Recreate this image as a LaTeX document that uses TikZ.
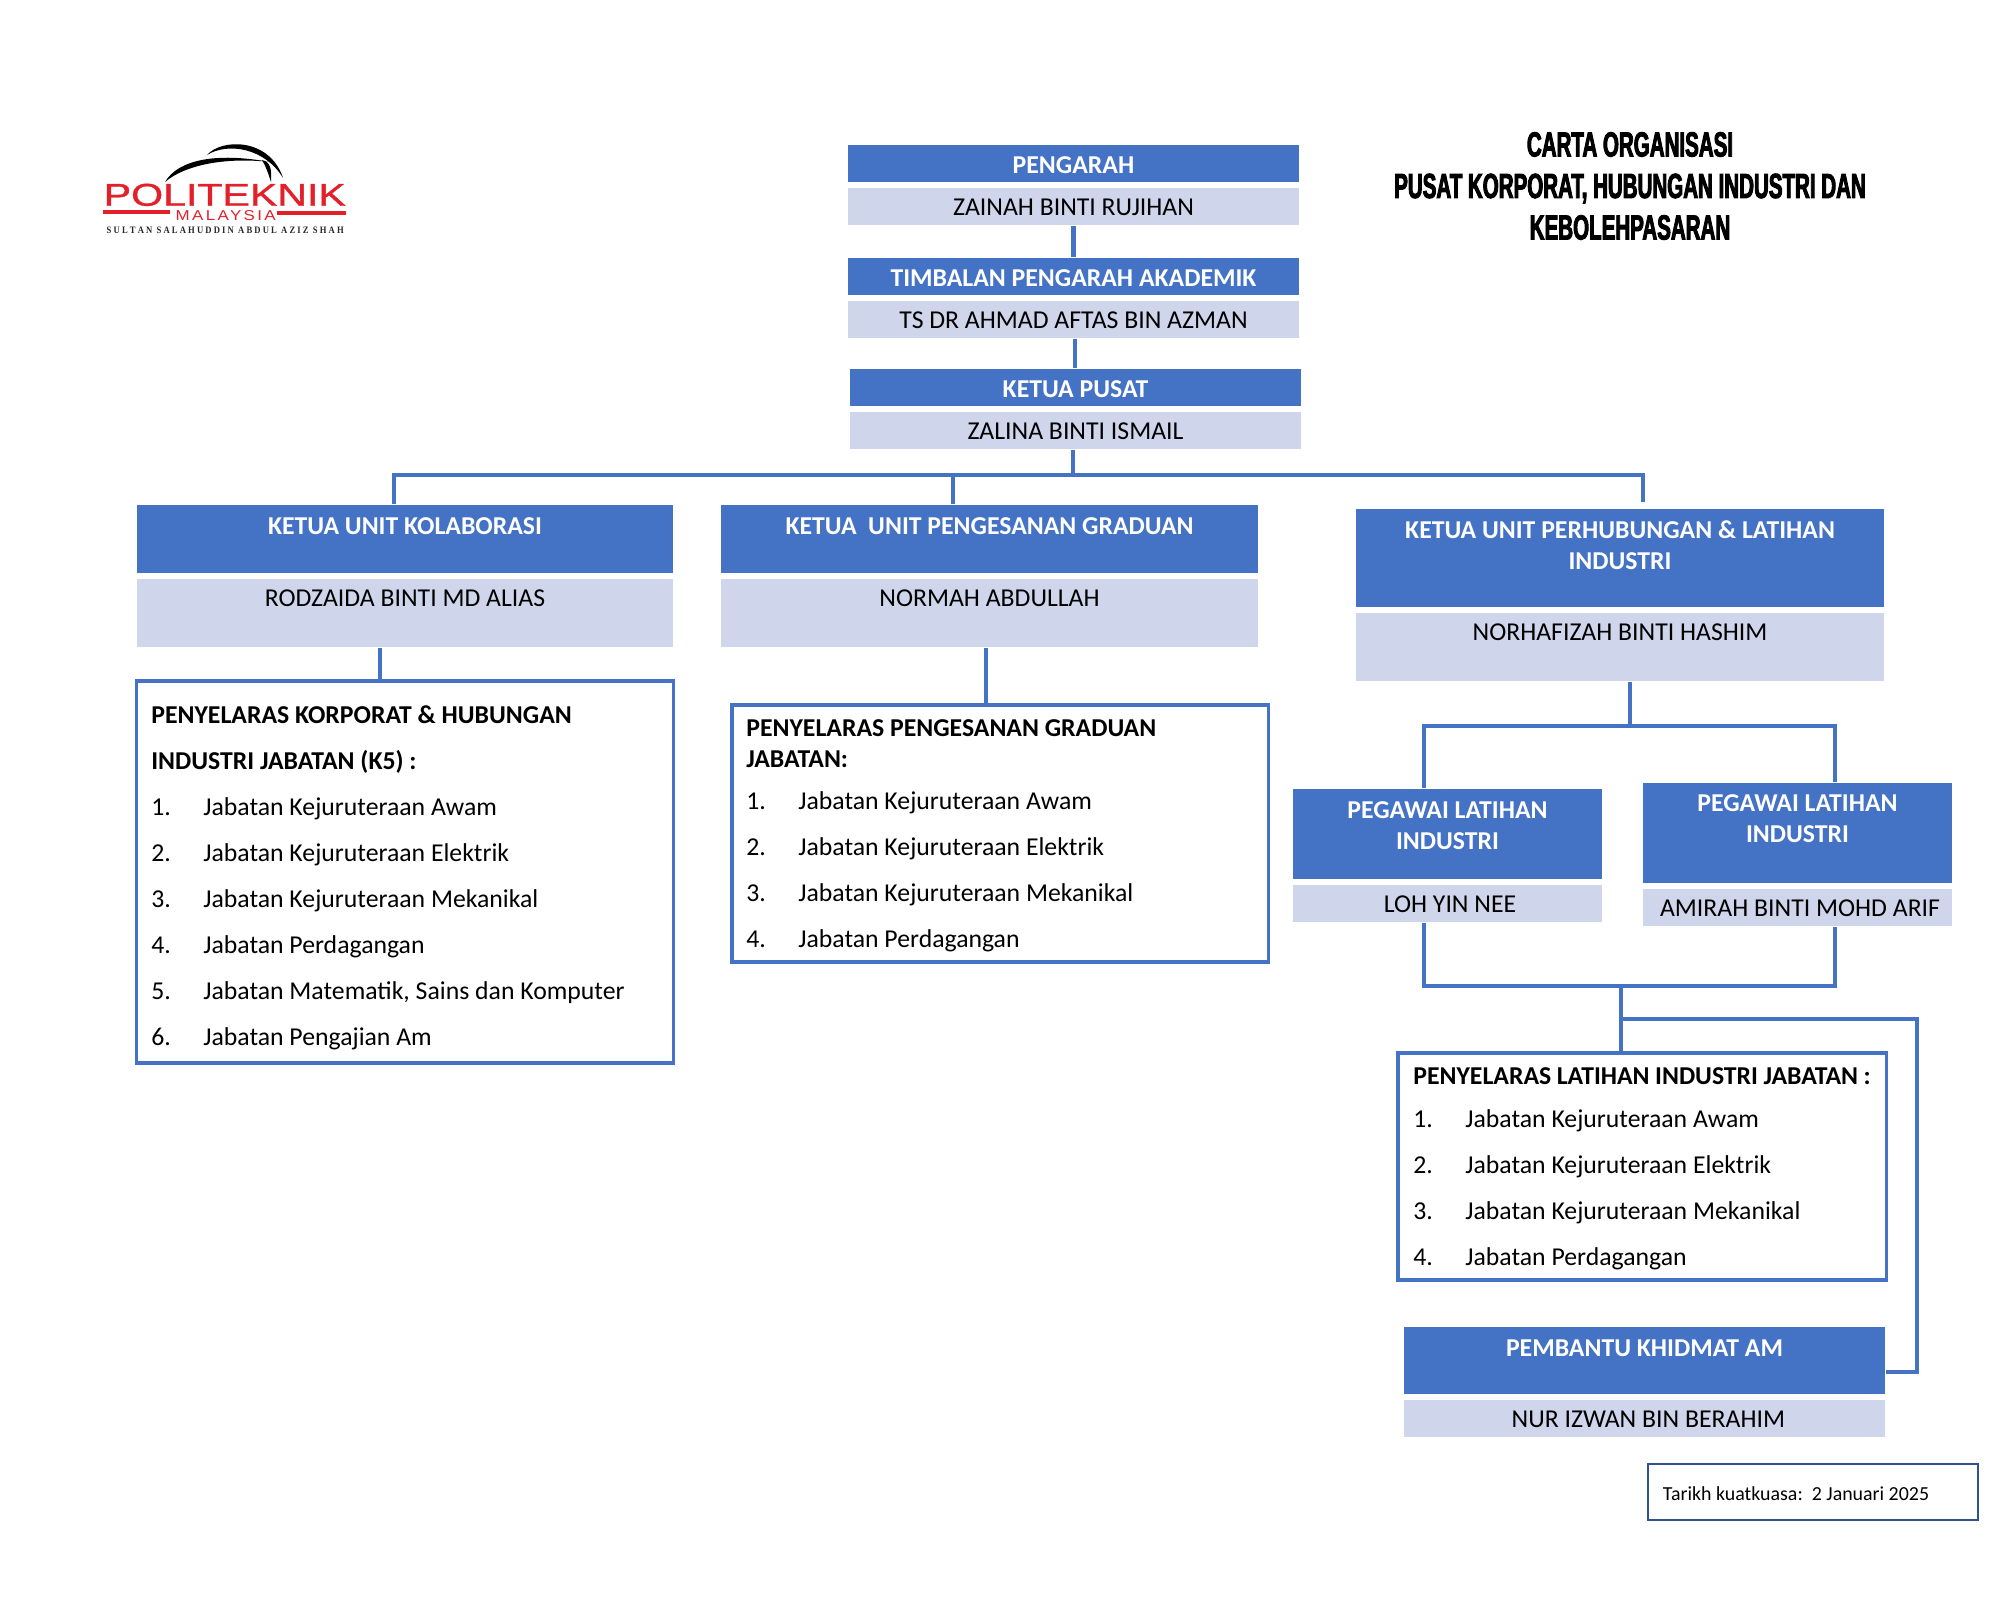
\documentclass[tikz,border=0pt]{standalone}
\usepackage{fontspec}
\usepackage{xcolor}
\usepackage{tikz}
\usetikzlibrary{positioning}
\setmainfont{Carlito}
\newfontfamily\judulfont[FakeStretch=0.59,FakeBold=2.6]{Liberation Sans Bold}
\newfontfamily\logofont[FakeBold=1.0]{Liberation Sans}
\newfontfamily\logotipis[LetterSpace=14]{Liberation Sans}
\newfontfamily\logoserif{Liberation Serif Bold}
\definecolor{birutua}{HTML}{4472C4}
\definecolor{birumuda}{HTML}{CFD5EA}
\definecolor{birugelap}{HTML}{2F528F}
\definecolor{merahlogo}{HTML}{E3202A}
\newcommand{\butir}[2]{\makebox[.52cm][l]{#1}#2}
\newcommand{\sela}{4.3pt}

\begin{document}
\begin{tikzpicture}[x=0.01cm, y=-0.01cm, node distance=.05cm]
	% Styles
	\tikzstyle{ketua} = [fill=birutua, text=white, rectangle, inner sep=0pt, align=center, font=\fontsize{7.32}{8.8}\selectfont\bfseries, execute at begin node={\rule{0pt}{5.8pt}}]
	\tikzstyle{nama} = [fill=birumuda, text=black, rectangle, inner sep=0pt, align=center, font=\fontsize{7.32}{8.8}\selectfont]
	\tikzstyle{senarai} = [draw=birutua, line width=.033cm, fill=white, rectangle, inner xsep=.145cm, inner ysep=0pt, align=flush left, font=\fontsize{7.32}{8.8}\selectfont]
	\tikzstyle{garis} = [draw=birutua, line width=.045cm]
	\tikzstyle{logo} = [text=merahlogo, inner sep=0pt]

	\useasboundingbox (0,0) rectangle (2000,1600);

	% Logo
	\fill [black] (165,182) .. controls (178,160) and (215,152) .. (270,162) .. controls (225,157) and (185,165) .. (165,182);
	\fill [black] (207,155) .. controls (222,138) and (270,138) .. (283,178) .. controls (265,148) and (228,142) .. (207,155);
	\fill [black] (262,160) .. controls (270,162) and (272,168) .. (271,182) .. controls (268,172) and (265,165) .. (262,160);
	\node (logonama) [logo, anchor=north west] at (103,183) {\resizebox{2.42cm}{.22cm}{\logofont POLITEKNIK}};
	\node (logonegara) [logo, anchor=north west] at (175,210) {\resizebox{1.0cm}{.10cm}{\logotipis MALAYSIA}};
	\node (logosultan) [text=black!85, inner sep=0pt, anchor=north west] at (106,226) {\resizebox{2.37cm}{.065cm}{\logoserif S U L T A N\ \ S A L A H U D D I N\ \ A B D U L\ \ A Z I Z\ \ S H A H}};
	\fill [merahlogo] (103,210.5) rectangle (170,214.5);
	\fill [merahlogo] (277,211.5) rectangle (346,215.5);

	% Title
	\node (judul) [align=center, inner sep=0pt, font=\fontsize{9.9}{11.8}\selectfont\judulfont] at (1630,186) {CARTA ORGANISASI \\ PUSAT KORPORAT, HUBUNGAN INDUSTRI DAN \\ KEBOLEHPASARAN};

	% Nodes
	\node (pengarah) [ketua, minimum width=4.51cm, minimum height=.37cm] at (1073.5,163.5) {PENGARAH};
	\node (zainah) [nama, below=of pengarah, minimum width=4.51cm, minimum height=.37cm] {ZAINAH BINTI RUJIHAN};
	\node (timbalan) [ketua, minimum width=4.51cm, minimum height=.37cm] at (1073.5,276.5) {TIMBALAN PENGARAH AKADEMIK};
	\node (ahmad) [nama, below=of timbalan, minimum width=4.51cm, minimum height=.37cm] {TS DR AHMAD AFTAS BIN AZMAN};
	\node (pusat) [ketua, minimum width=4.51cm, minimum height=.37cm] at (1075.5,387.5) {KETUA PUSAT};
	\node (zalina) [nama, below=of pusat, minimum width=4.51cm, minimum height=.37cm] {ZALINA BINTI ISMAIL};

	\node (kolab) [ketua, minimum width=5.36cm, minimum height=.68cm] at (405,539) {KETUA UNIT KOLABORASI \\[-1.4pt] \mbox{}};
	\node (rodzaida) [nama, below=of kolab, minimum width=5.36cm, minimum height=.68cm] {RODZAIDA BINTI MD ALIAS \\ \mbox{}};
	\node (korporat) [senarai, text width=5.07cm, minimum height=3.82cm] at (405,872) {\rule{0pt}{8.4pt}\textbf{PENYELARAS KORPORAT \& HUBUNGAN} \\[\sela] \textbf{INDUSTRI JABATAN (K5) :} \\[\sela] \butir{1.}{Jabatan Kejuruteraan Awam} \\[\sela] \butir{2.}{Jabatan Kejuruteraan Elektrik} \\[\sela] \butir{3.}{Jabatan Kejuruteraan Mekanikal} \\[\sela] \butir{4.}{Jabatan Perdagangan} \\[\sela] \butir{5.}{Jabatan Matematik, Sains dan Komputer} \\[\sela] \butir{6.}{Jabatan Pengajian Am}};

	\node (graduan) [ketua, minimum width=5.37cm, minimum height=.68cm] at (989.5,539) {KETUA\ \ UNIT PENGESANAN GRADUAN \\[-1.4pt] \mbox{}};
	\node (normah) [nama, below=of graduan, minimum width=5.37cm, minimum height=.68cm] {NORMAH ABDULLAH \\ \mbox{}};
	\node (pengesanan) [senarai, text width=5.07cm, minimum height=2.57cm] at (1000,833.5) {\rule{0pt}{6.2pt}\textbf{PENYELARAS PENGESANAN GRADUAN} \\ \textbf{JABATAN:} \\[3pt] \butir{1.}{Jabatan Kejuruteraan Awam} \\[\sela] \butir{2.}{Jabatan Kejuruteraan Elektrik} \\[\sela] \butir{3.}{Jabatan Kejuruteraan Mekanikal} \\[\sela] \butir{4.}{Jabatan Perdagangan}};

	\node (perhubungan) [ketua, minimum width=5.28cm, minimum height=.98cm] at (1620,558) {KETUA UNIT PERHUBUNGAN \& LATIHAN \\ INDUSTRI \\[-1.4pt] \mbox{}};
	\node (norhafizah) [nama, below=of perhubungan, minimum width=5.28cm, minimum height=.68cm] {NORHAFIZAH BINTI HASHIM \\ \mbox{}};

	\node (pegawaia) [ketua, minimum width=3.09cm, minimum height=.90cm] at (1447.5,834) {PEGAWAI LATIHAN \\ INDUSTRI \\[-4pt] \mbox{}};
	\node (loh) [nama, below=of pegawaia, minimum width=3.09cm, minimum height=.37cm] {\hspace*{.05cm}LOH YIN NEE};
	\node (pegawaib) [ketua, minimum width=3.09cm, minimum height=1.00cm] at (1797.5,833) {PEGAWAI LATIHAN \\ INDUSTRI \\[-.7pt] \mbox{}};
	\node (amirah) [nama, below=of pegawaib, minimum width=3.09cm, minimum height=.37cm] {\hspace*{.05cm}AMIRAH BINTI MOHD ARIF};

	\node (latihan) [senarai, inner xsep=.155cm, text width=4.57cm, minimum height=2.27cm] at (1642,1166.5) {\rule{0pt}{6.2pt}\textbf{PENYELARAS LATIHAN INDUSTRI JABATAN :} \\[3.2pt] \butir{1.}{Jabatan Kejuruteraan Awam} \\[\sela] \butir{2.}{Jabatan Kejuruteraan Elektrik} \\[\sela] \butir{3.}{Jabatan Kejuruteraan Mekanikal} \\[\sela] \butir{4.}{Jabatan Perdagangan}};

	\node (pembantu) [ketua, minimum width=4.81cm, minimum height=.67cm] at (1644.5,1360.5) {PEMBANTU KHIDMAT AM \\[-2pt] \mbox{}};
	\node (izwan) [nama, below=of pembantu, minimum width=4.81cm, minimum height=.37cm] {\hspace*{.076cm}NUR IZWAN BIN BERAHIM};

	\node (tarikh) [draw=birugelap, line width=.025cm, rectangle, inner xsep=.15cm, inner ysep=0pt, text width=3.0cm, minimum height=.56cm, align=flush left, font=\fontsize{5.66}{7.5}\selectfont] at (1813,1492) {\rule{0pt}{5pt}Tarikh kuatkuasa:\ \ 2 Januari 2025};

	\coordinate (buskiri) at (394,475);
	\coordinate (bustengah) at (953,475);
	\coordinate (buskanan) at (1643,475);
	\coordinate (atasa) at (1424,726);
	\coordinate (atasb) at (1835,726);
	\coordinate (bawaha) at (1424,986);
	\coordinate (bawahb) at (1835,986);
	\coordinate (bawahc) at (1621,986);
	\coordinate (cabang) at (1621,1019);
	\coordinate (cabangb) at (1917,1019);
	\coordinate (sudut) at (1917,1372);

	% Connections
	\draw [garis] (zainah.south) -- (timbalan.north);
	\draw [garis] ([xshift=.015cm]ahmad.south) -- ([xshift=.015cm]ahmad.south |- pusat.north);
	\draw [garis] ([xshift=-.025cm]zalina.south) -- ([xshift=-.025cm]zalina.south |- buskanan);
	\draw [garis] (buskiri |- kolab.north) -- (buskiri) -- (buskanan) -- ([yshift=.06cm]buskanan |- perhubungan.north);
	\draw [garis] (bustengah) -- (bustengah |- graduan.north);
	\draw [garis] ([xshift=-.25cm]rodzaida.south) -- ([xshift=-.25cm]rodzaida.south |- korporat.north);
	\draw [garis] ([xshift=-.035cm]normah.south) -- ([xshift=-.035cm]normah.south |- pengesanan.north);
	\draw [garis] ([xshift=.10cm]norhafizah.south) -- ([xshift=.10cm]norhafizah.south |- atasa);
	\draw [garis] (atasa |- pegawaia.north) -- (atasa) -- (atasb) -- (atasb |- pegawaib.north);
	\draw [garis] (bawaha |- loh.south) -- (bawaha) -- (bawahb) -- (bawahb |- amirah.south);
	\draw [garis] (bawahc) -- (bawahc |- latihan.north);
	\draw [garis] (cabang) -- (cabangb) -- (sudut) -- (sudut -| pembantu.east);
\end{tikzpicture}
\end{document}
